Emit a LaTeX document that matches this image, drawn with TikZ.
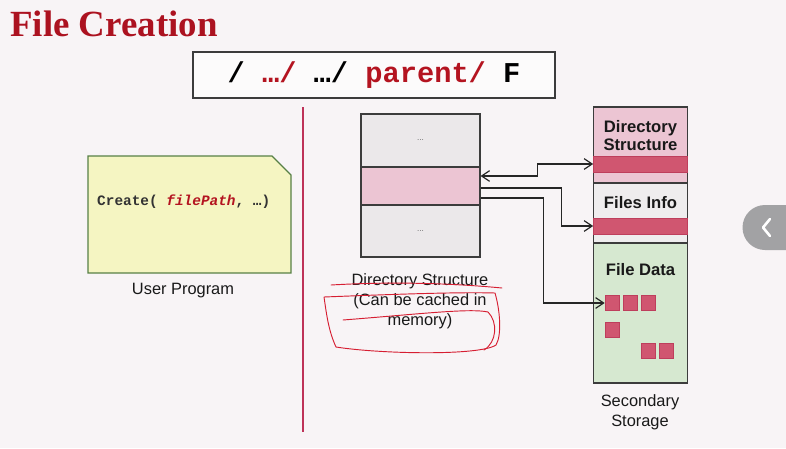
\documentclass[tikz,border=0pt]{standalone}
\usepackage{fontspec}
\setmainfont{Liberation Serif}
\setsansfont{Liberation Sans}
\setmonofont{Liberation Mono}
\usetikzlibrary{arrows.meta, positioning, calc}
\definecolor{SlideBg}{RGB}{248,244,246}
\definecolor{TitleRed}{RGB}{172,18,32}
\definecolor{CodeRed}{RGB}{180,20,32}
\definecolor{RuleRed}{RGB}{190,50,88}
\definecolor{InkRed}{RGB}{214,30,50}
\definecolor{BoxGray}{RGB}{235,232,234}
\definecolor{LightPink}{RGB}{236,197,211}
\definecolor{BarRed}{RGB}{208,86,112}
\definecolor{BarEdge}{RGB}{190,62,92}
\definecolor{DataGreen}{RGB}{214,232,208}
\definecolor{NoteYellow}{RGB}{245,245,194}
\definecolor{NoteGreen}{RGB}{88,128,70}
\definecolor{Outline}{RGB}{60,60,60}
\definecolor{TabGray}{RGB}{162,162,164}
\newcommand{\pxu}{0.03cm}
\tikzset{
  cell/.style={draw=Outline, line width=0.9pt, inner sep=0pt},
  bar/.style={fill=BarRed, draw=BarEdge, line width=0.6pt, inner sep=0pt,
              minimum width=94*\pxu, minimum height=16*\pxu},
  block/.style={fill=BarRed, draw=BarEdge, line width=0.6pt, inner sep=0pt,
                minimum width=14*\pxu, minimum height=15*\pxu},
  caption/.style={font=\sffamily\fontsize{14}{17}\selectfont, text=black!90, align=center},
  boldcap/.style={font=\sffamily\bfseries\fontsize{14.2}{16}\selectfont, text=black!90, align=center},
  link/.style={draw=black!85, line width=1pt, -{Straight Barb[length=2.4mm, width=3.2mm]}},
  scribble/.style={draw=InkRed, line width=0.8pt, line cap=round}
}

\begin{document}
\begin{tikzpicture}[x=0.03cm, y=-0.03cm, font=\sffamily]

% fondo
\fill[SlideBg] (0,0) rectangle (786,448);
\useasboundingbox (0,0) rectangle (786,448);

% titulo
\node[anchor=base west, inner sep=0pt, text=TitleRed,
      font=\rmfamily\bfseries\fontsize{31.5}{35}\selectfont] (title) at (10,36) {File Creation};

% ruta
\node[cell, fill=white!60!SlideBg, minimum width=362*\pxu, minimum height=46*\pxu,
      font=\ttfamily\bfseries\fontsize{24.5}{28}\selectfont] (path) at (374,75)
    {/ \textcolor{CodeRed}{…/} …/ \textcolor{CodeRed}{parent/} F};

% separador
\draw[RuleRed, line width=1.6pt] (303,107) -- (303,432);

% programa de usuario
\filldraw[fill=NoteYellow, draw=NoteGreen, line width=1pt]
    (88,156) -- (272,156) -- (291,175) -- (291,273) -- (88,273) -- cycle;
\node[anchor=west, inner sep=0pt, font=\ttfamily\bfseries\fontsize{12.3}{14}\selectfont, text=black!80]
    (call) at (97,202) {Create( \textcolor{CodeRed}{\itshape filePath}, …)};
\node[caption] (prog) at (183,291) {User Program};

% directorio en memoria
\node[cell, fill=BoxGray, minimum width=119*\pxu, minimum height=53*\pxu] (dtop) at (420.5,140.5) {};
\node[cell, fill=LightPink, minimum width=119*\pxu, minimum height=38*\pxu] (dmid) at (420.5,186) {};
\node[cell, fill=BoxGray, minimum width=119*\pxu, minimum height=52*\pxu] (dbot) at (420.5,231) {};
\node[font=\sffamily\scriptsize, text=black!60] at (dtop) {...};
\node[font=\sffamily\scriptsize, text=black!60] at (dbot) {...};
\node[caption, inner sep=0pt] (dlabel) at (420,301)
    {Directory Structure\\(Can be cached in\\memory)};

% almacenamiento secundario
\node[cell, fill=LightPink, minimum width=94*\pxu, minimum height=76*\pxu] (sdir) at (640.5,145) {};
\node[cell, fill=BoxGray!80!white, minimum width=94*\pxu, minimum height=60*\pxu] (sinfo) at (640.5,213) {};
\node[cell, fill=DataGreen, minimum width=94*\pxu, minimum height=140*\pxu] (sdata) at (640.5,313) {};
\node[bar] (dbar) at (640.5,164) {};
\node[bar] (fbar) at (640.5,226) {};
\node[boldcap] at (640.5,135.5) {Directory\\Structure};
\node[boldcap] at (640.5,203) {Files Info};
\node[boldcap] at (640.5,270) {File Data};
% bloques: nombre/x/y
\foreach \n/\x/\y in {1/612/303, 2/630/303, 3/648/303, 4/612/330, 5/648/351, 6/666/351}{
    \node[block] (sq\n) at (\x,\y) {};
}
\node[caption] (store) at (640,412) {Secondary\\Storage};

% enlaces
\draw[link, {Straight Barb[length=2.4mm, width=3.2mm]}-{Straight Barb[length=2.4mm, width=3.2mm]}]
    ($(dmid.east)+(0,-10)$) -- ++(57,0) |- (dbar.west);
\draw[link] ($(dmid.east)+(0,2)$) -- ++(81,0) |- (fbar.west);
\draw[link] ($(dmid.east)+(0,12)$) -- ++(63,0) |- (sq1.west);

% trazos a mano
\draw[scribble] (331,285) .. controls (400,281) and (460,284) .. (502,288);
\draw[scribble] (324,297) .. controls (400,294) and (460,292) .. (495,293)
    .. controls (500,310) and (502,335) .. (496,345)
    .. controls (480,356) and (380,354) .. (336,347)
    .. controls (328,330) and (326,310) .. (324,297);
\draw[scribble] (343,320) .. controls (420,314) and (470,308) .. (488,312)
    .. controls (498,322) and (497,342) .. (484,350);

% pestana
\fill[TabGray] (786,205) -- (765,205) arc[start angle=270, end angle=90, radius=22.5] -- (786,250) -- cycle;
\draw[white, line width=2.2pt, line cap=round, line join=round] (770,219) -- (763,227.5) -- (770,236);

\end{tikzpicture}
\end{document}
